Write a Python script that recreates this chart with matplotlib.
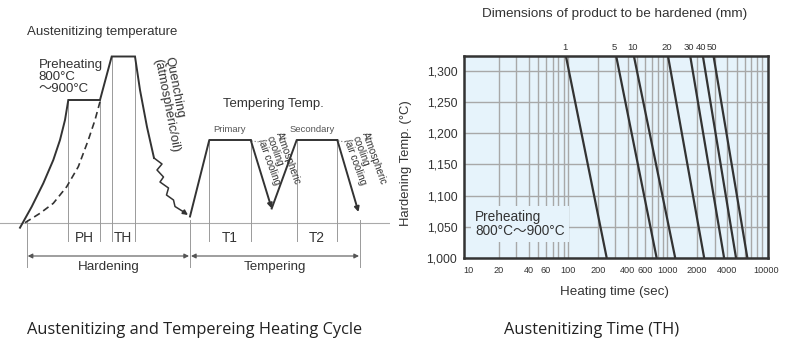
import matplotlib
matplotlib.use("Agg")
import matplotlib.pyplot as plt
from matplotlib import font_manager
from matplotlib.ticker import FixedLocator, NullLocator

# ---- left: heating cycle diagram (positions in diagram units, y grows downwards) ----
base_y = 222.5
heat_x = [20, 31.7, 43.3, 53.3, 60, 65, 68.3, 100, 111.7, 135, 140, 147, 154]
heat_y = [227.7, 206.7, 183.3, 160, 140, 120, 100, 100, 56.5, 56.5, 90, 127, 158]
slow_x = [25, 40, 53.3, 66.7, 78.3, 88.3, 95, 100]
slow_y = [222.7, 213.3, 203.3, 186.7, 166.7, 140, 120, 101.7]
quench_x = [154, 162, 157, 163.5, 160, 168.5, 166.5, 173.5, 175, 183, 188]
quench_y = [158, 164, 170, 177, 182, 188, 195, 200, 206.5, 211.5, 215]
temper1_x = [190, 209.3, 250.7, 271.7]
temper1_y = [216.5, 140, 140, 208.5]
temper2_x = [271.7, 296.7, 337.3, 358.5]
temper2_y = [208.5, 140, 140, 212]
guide_x = [68.3, 100, 111.7, 135, 209.3, 250.7, 296.7, 337.3]
guide_top = [100, 100, 56.5, 56.5, 140, 140, 140, 140]
guide_bottom = 241
stage_x = [26.7, 190, 360]
stage_names = ["Hardening", "Tempering"]
hold_labels = ["PH", "TH", "T1", "T2"]

# ---- right: austenitizing time chart ----
sizes = ["1", "5", "10", "20", "30", "40", "50"]
time_at_hi = [95, 305, 460, 1015, 1700, 2280, 2920]
time_at_lo = [245, 780, 1200, 2350, 3730, 4920, 6400]
temp_hi = 1324
temp_lo = 1000
x_ticks = [10, 20, 40, 60, 100, 200, 400, 600, 1000, 2000, 4000, 10000]
y_ticks = [1000, 1050, 1100, 1150, 1200, 1250, 1300]

names = {f.name for f in font_manager.fontManager.ttflist}
narrow = "Liberation Sans Narrow" if "Liberation Sans Narrow" in names else "Liberation Sans"
plt.rcParams["font.family"] = ["Liberation Sans", "DejaVu Sans"]
wave = ["Liberation Sans", "Noto Sans CJK JP", "DejaVu Sans"]
ink = "#333333"
thin = "#9a9a9a"

W, H = 786, 348
fig = plt.figure(figsize=(W / 100, H / 100), dpi=100)

ax = fig.add_axes([0, 0, 390 / W, 1])
ax.set_xlim(0, 390)
ax.set_ylim(H, 0)
ax.axis("off")

ax.axhline(base_y, color="#aaaaaa", lw=0.8)
for gx, gt in zip(guide_x, guide_top):
    ax.plot([gx, gx], [gt, guide_bottom], color=thin, lw=0.7)
for sx in stage_x:
    ax.plot([sx, sx], [base_y - 3, 267], color=thin, lw=0.7)

ax.plot(heat_x, heat_y, color=ink, lw=1.4, solid_joinstyle="miter")
ax.plot(slow_x, slow_y, color=ink, lw=1.2, ls=(0, (4, 2.5)))
ax.plot(quench_x[:-1], quench_y[:-1], color=ink, lw=1.1, solid_joinstyle="round")

arrow = dict(arrowstyle="-|>", color=ink, lw=1.2, mutation_scale=7, shrinkA=0, shrinkB=0)
ax.annotate("", xy=(quench_x[-1], quench_y[-1]), xytext=(quench_x[-2], quench_y[-2]), arrowprops=arrow)
for tx, ty in [(temper1_x, temper1_y), (temper2_x, temper2_y)]:
    ax.plot(tx[:-1], ty[:-1], color=ink, lw=1.4)
    ax.annotate("", xy=(tx[-1], ty[-1]), xytext=(tx[-2], ty[-2]), arrowprops=dict(arrow, lw=1.4))
    # short dotted lead from plateau end to the cooling note
    ax.plot([tx[2] + 1, tx[2] + 13], [ty[2] + 1, ty[2] + 2.5], color="#777777", lw=0.8, ls=":")

dim = dict(arrowstyle="<|-|>", color="#555555", lw=0.8, mutation_scale=7, shrinkA=0, shrinkB=0)
for i, name in enumerate(stage_names):
    ax.annotate("", xy=(stage_x[i] + 1, 256), xytext=(stage_x[i + 1] - 1, 256), arrowprops=dim)
    ax.text((stage_x[i] + stage_x[i + 1]) / 2, 267, name, ha="center", va="center", fontsize=9.6, color=ink)

for i, lab in enumerate(hold_labels):
    ax.text((guide_x[2 * i] + guide_x[2 * i + 1]) / 2, 237.5, lab, ha="center", va="center",
            fontsize=9.8, color=ink)

ax.text(26.7, 32.5, "Austenitizing temperature", ha="left", va="center", fontsize=9.5, color=ink)
ax.text(38.5, 77, "Preheating\n800°C\n〜900°C", ha="left", va="center", fontsize=9.5,
        color=ink, linespacing=1.0, family=wave)
ax.text(174, 56, "Quenching\n(atmospheric/oil)", rotation=-79, rotation_mode="anchor",
        ha="left", va="top", fontsize=9.3, color=ink, linespacing=0.95)
ax.text(273.3, 103.5, "Tempering Temp.", ha="center", va="center", fontsize=9.5, color=ink)
ax.text(230, 130, "Primary", ha="center", va="center", fontsize=6.8, color="#555555")
ax.text(312.3, 130, "Secondary", ha="center", va="center", fontsize=6.8, color="#555555")
for cx, cy in [(283, 131), (369, 131)]:
    ax.text(cx, cy, "Atmospheric\ncooling\n/air cooling", rotation=-70, rotation_mode="anchor",
            ha="left", va="top", fontsize=7.2, color=ink, linespacing=0.9)

# ---- right chart ----
bg = "#e6f3fb"
ax2 = fig.add_axes([464.3 / W, 1 - 258 / H, (768.3 - 464.3) / W, (258 - 56) / H])
ax2.set_xscale("log")
ax2.set_xlim(9, 10400)
ax2.set_ylim(temp_lo, temp_hi)
ax2.set_facecolor(bg)

minor = [m * 10 ** k for k in (1, 2, 3) for m in range(2, 10)] + [100, 1000]
for v in minor:
    ax2.axvline(v, color="#a8a8a8", lw=1.0, zorder=1)
for t in y_ticks[1:]:
    ax2.axhline(t, color="#a8a8a8", lw=1.0, zorder=1)

for s, hi_t, lo_t in zip(sizes, time_at_hi, time_at_lo):
    ax2.plot([hi_t, lo_t], [temp_hi, temp_lo], color=ink, lw=1.6, zorder=3, solid_capstyle="butt")
    ax2.annotate(s, xy=(hi_t, temp_hi), xytext=(-1, 3), textcoords="offset points",
                 ha="center", va="bottom", fontsize=6.8, family=narrow, color=ink)

ax2.xaxis.set_major_locator(FixedLocator(x_ticks))
ax2.xaxis.set_minor_locator(NullLocator())
ax2.set_xticklabels([str(v) for v in x_ticks], fontsize=6.6, family=narrow, color=ink)
ax2.set_yticks(y_ticks)
ax2.set_yticklabels([f"{v:,}" for v in y_ticks], fontsize=8.7, color=ink)
ax2.tick_params(length=0, pad=5)
ax2.tick_params(axis="x", pad=6)
for sp in ax2.spines.values():
    sp.set_linewidth(1.8)
    sp.set_color(ink)

ax2.text(0.035, 0.17, "Preheating\n800°C〜900°C", transform=ax2.transAxes, ha="left", va="center",
         fontsize=9.8, color=ink, linespacing=1.0, zorder=4, family=wave,
         bbox=dict(boxstyle="square,pad=0.3", facecolor=bg, edgecolor="none"))

fig.text(615 / W, 1 - 14 / H, "Dimensions of product to be hardened (mm)", ha="center", va="center",
         fontsize=9.7, color=ink)
fig.text(615 / W, 1 - 291.5 / H, "Heating time (sec)", ha="center", va="center", fontsize=9.6, color=ink)
fig.text(406.5 / W, 1 - 163 / H, "Hardening Temp. (°C)", ha="center", va="center", rotation=90,
         fontsize=9.4, color=ink)

cap = ["Open Sans", "DejaVu Sans"]
fig.text(194.5 / W, 1 - 330 / H, "Austenitizing and Tempereing Heating Cycle", ha="center", va="center",
         fontsize=11.8, family=cap, color="#222222")
fig.text(592 / W, 1 - 330 / H, "Austenitizing Time (TH)", ha="center", va="center",
         fontsize=11.8, family=cap, color="#222222")

fig.savefig("out.png", dpi=100)
